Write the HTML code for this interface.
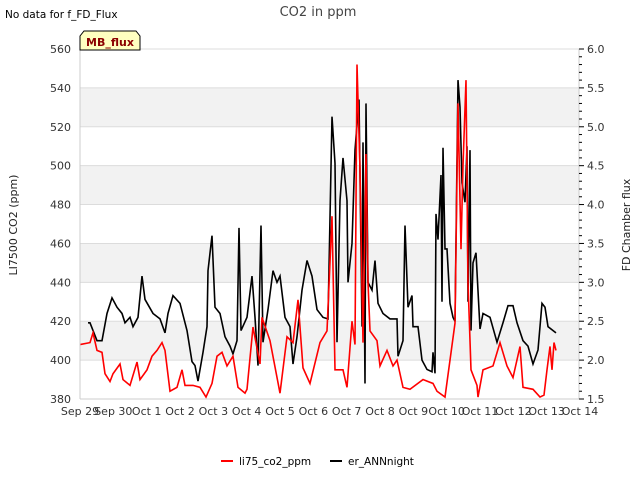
<!DOCTYPE html>
<html><head><meta charset="utf-8"><style>
body{margin:0;background:#fff;}
svg{display:block;font-family:"DejaVu Sans","Liberation Sans",sans-serif;}
</style></head><body>
<svg id="chart" width="640" height="480" viewBox="0 0 640 480" xmlns="http://www.w3.org/2000/svg">
<text x="5" y="18" font-size="10.5" fill="#000">No data for f_FD_Flux</text>
<text x="318" y="16" font-size="13" fill="#444" text-anchor="middle">CO2 in ppm</text>
<text transform="translate(17,225) rotate(-90)" font-size="11" fill="#222" text-anchor="middle">LI7500 CO2 (ppm)</text>
<text transform="translate(630,225) rotate(-90)" font-size="11" fill="#222" text-anchor="middle">FD Chamber flux</text>
<g id="grid"></g><g id="series"></g><g id="axes"></g>
<g>
<path d="M80,50 L80,36 L84,31 L136,31 L140,36 L140,50 Z" fill="#ffffc0" stroke="#000" stroke-width="1"/>
<text x="110" y="46" font-size="11" font-weight="bold" fill="#8b0000" text-anchor="middle">MB_flux</text>
</g>
<g>
<g><line x1="221" y1="461" x2="233" y2="461" stroke="#f00" stroke-width="2"/><text x="239" y="465" font-size="10.5">li75_co2_ppm</text></g>
<g><line x1="330" y1="461" x2="342" y2="461" stroke="#000" stroke-width="2"/><text x="348" y="465" font-size="10.5">er_ANNnight</text></g>
</g>
</svg>
<script>
const xTickLabels=["Sep 29","Sep 30","Oct 1","Oct 2","Oct 3","Oct 4","Oct 5","Oct 6","Oct 7","Oct 8","Oct 9","Oct 10","Oct 11","Oct 12","Oct 13","Oct 14"];
const yTicks=[380,400,420,440,460,480,500,520,540,560];
const y2Ticks=[1.5,2.0,2.5,3.0,3.5,4.0,4.5,5.0,5.5,6.0];
const redDays=[0,.30,.39,.51,.66,.75,.90,.99,1.2,1.29,1.5,1.71,1.8,2.01,2.16,2.31,2.46,2.55,2.7,2.91,3.06,3.15,3.39,3.6,3.78,3.96,4.11,4.26,4.41,4.59,4.74,4.95,5.01,5.19,5.4,5.46,5.7,6.0,6.21,6.39,6.54,6.69,6.9,7.2,7.41,7.56,7.65,7.89,8.01,8.16,8.25,8.31,8.4,8.49,8.58,8.64,8.7,8.91,9.0,9.21,9.39,9.51,9.69,9.9,10.29,10.59,10.71,10.95,11.1,11.25,11.34,11.43,11.49,11.58,11.64,11.73,11.91,11.94,12.09,12.39,12.6,12.81,12.99,13.2,13.29,13.59,13.8,13.92,14.01,14.1,14.16,14.22,14.28];
const redPpm=[408,409,414,405,404,393,389,393,398,390,387,399,390,395,402,405,409,405,384,386,395,387,387,386,381,388,402,404,397,402,386,383,385,417,398,422,410,383,412,409,431,396,388,409,415,474,395,395,386,420,408,552,498,409,506,440,415,410,397,405,397,400,386,385,390,388,384,381,400,419,532,457,500,544,440,395,387,381,395,397,409,397,391,407,386,385,381,382,395,407,395,409,405];
const blackDays=[.24,.3,.51,.66,.81,.96,1.11,1.26,1.35,1.5,1.59,1.74,1.86,1.95,2.19,2.4,2.55,2.64,2.79,3.0,3.21,3.36,3.45,3.54,3.69,3.81,3.84,3.96,4.05,4.2,4.35,4.5,4.59,4.71,4.77,4.83,5.01,5.16,5.25,5.34,5.43,5.49,5.64,5.79,5.91,6.0,6.15,6.3,6.39,6.51,6.66,6.81,6.96,7.11,7.29,7.44,7.56,7.65,7.71,7.8,7.89,8.01,8.04,8.16,8.25,8.37,8.46,8.49,8.55,8.58,8.64,8.76,8.85,8.94,9.09,9.3,9.51,9.54,9.69,9.75,9.84,9.96,9.99,10.14,10.26,10.41,10.56,10.59,10.65,10.68,10.74,10.83,10.86,10.89,10.95,11.01,11.1,11.19,11.25,11.34,11.4,11.46,11.55,11.61,11.64,11.7,11.73,11.79,11.88,12.0,12.09,12.3,12.51,12.69,12.84,12.99,13.11,13.29,13.44,13.59,13.74,13.86,13.95,14.04,14.28];
const blackFlux=[2.48,2.48,2.25,2.25,2.6,2.8,2.68,2.6,2.48,2.55,2.43,2.55,3.08,2.78,2.6,2.53,2.35,2.6,2.83,2.73,2.38,1.98,1.93,1.73,2.1,2.43,3.15,3.6,2.68,2.6,2.3,2.18,2.08,2.25,3.7,2.38,2.55,3.08,2.55,1.93,3.73,2.23,2.65,3.15,3.0,3.08,2.55,2.43,1.95,2.3,2.9,3.28,3.08,2.65,2.55,2.53,5.13,4.53,2.23,4.05,4.6,4.05,3.0,3.5,4.7,5.35,2.43,4.8,1.7,5.3,3.0,2.9,3.28,2.73,2.6,2.53,2.53,2.05,2.25,3.73,2.68,2.83,2.43,2.43,2.0,1.88,1.85,2.1,1.83,3.88,3.55,4.38,2.75,4.73,3.43,3.43,2.73,2.55,2.5,5.6,5.25,4.28,4.03,4.75,2.75,4.7,2.38,3.25,3.38,2.4,2.6,2.55,2.23,2.48,2.7,2.7,2.48,2.25,2.18,1.95,2.13,2.73,2.68,2.43,2.35];
const NS='http://www.w3.org/2000/svg';
const L=80,R=579,T=49,B=399;
const xs=d=>L+d*(500/15);
const yL=v=>B-(v-380)/180*(B-T);
const yR=v=>B-(v-1.5)/4.5*(B-T);
function mk(tag,attrs,parent){const e=document.createElementNS(NS,tag);for(const k in attrs)e.setAttribute(k,attrs[k]);parent.appendChild(e);return e;}
const grid=document.getElementById('grid'),axes=document.getElementById('axes'),ser=document.getElementById('series');
for(let i=0;i<yTicks.length-1;i++){
 if(i%2===1){const b=mk('rect',{x:L,y:yL(yTicks[i+1]),width:R-L,height:yL(yTicks[i])-yL(yTicks[i+1]),fill:'#f2f2f2'},grid);
 
 }
}
yTicks.forEach(v=>{const g=mk('line',{x1:L,x2:R,y1:yL(v),y2:yL(v),stroke:'#dcdcdc','stroke-width':1},grid);
 
 
 const t=mk('text',{x:L-9,y:yL(v)+4,'font-size':11,fill:'#333','text-anchor':'end'},axes);t.textContent=v;
 
 });
mk('line',{x1:L,x2:L,y1:T,y2:B,stroke:'#ccc'},axes);
mk('line',{x1:L,x2:R,y1:B,y2:B,stroke:'#ccc'},axes);
mk('line',{x1:R,x2:R,y1:T,y2:B,stroke:'#ccc'},axes);
for(let v=1.5;v<=6.001;v+=0.1){const major=Math.abs(v*2-Math.round(v*2))<1e-6;mk('line',{x1:R,x2:R+(major?5:3),y1:yR(v),y2:yR(v),stroke:'#000'},axes);}
y2Ticks.forEach(v=>{const t=mk('text',{x:R+8,y:yR(v)+4,'font-size':11,fill:'#333'},axes);t.textContent=v.toFixed(1);
 
 });
xTickLabels.forEach((s,i)=>{const t=mk('text',{x:xs(i),y:B+16,'font-size':11,fill:'#333','text-anchor':'middle'},axes);t.textContent=s;
 
 });
const bp=mk('polyline',{points:blackDays.map((d,i)=>xs(d)+','+yR(blackFlux[i])).join(' '),fill:'none',stroke:'#000','stroke-width':1.6},ser);


const rp=mk('polyline',{points:redDays.map((d,i)=>xs(d)+','+yL(redPpm[i])).join(' '),fill:'none',stroke:'#f00','stroke-width':1.6},ser);


</script>
</body></html>
